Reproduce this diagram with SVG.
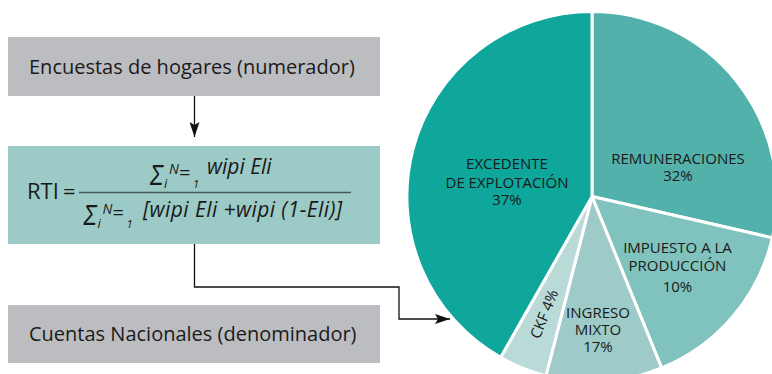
<svg xmlns="http://www.w3.org/2000/svg" xmlns:xlink="http://www.w3.org/1999/xlink" width="772" height="374" viewBox="0 0 772 374">
<style>
.box{fill:#bcbdc1}
.fbox{fill:#9ccac6}
.t{font-family:"Open Sans","Noto Sans",sans-serif;fill:#1a1a1a}
.bt{font-size:20px}
.it{font-style:italic;font-size:21px}
.pl{font-family:"Open Sans","Noto Sans",sans-serif;font-size:15px;fill:#1a1a1a;text-anchor:middle}
.sl{stroke:#fff;stroke-width:3;stroke-linejoin:round}
.conn{fill:none;stroke:#111;stroke-width:1.3}
</style>
<defs>
<marker id="ah" markerWidth="15" markerHeight="10" refX="15" refY="5" orient="auto" markerUnits="userSpaceOnUse">
<path d="M0,0 L15,5 L0,10 L3,5 Z" fill="#111"/>
</marker>
<g id="sum">
<text transform="translate(150,185) scale(1,1.35)" style="font-family:'Liberation Sans',sans-serif;font-style:italic;font-size:22px;fill:#1a1a1a">Σ</text>
<text class="t" x="169" y="174" style="font-style:italic;font-size:14px">N</text>
<text class="t" x="179" y="180" style="font-size:20px">=</text>
<text class="t" x="164" y="188" style="font-style:italic;font-size:13px">i</text>
<text class="t" x="193" y="188" style="font-style:italic;font-size:11px">1</text>
</g>
</defs>

<g id="node-encuestas">
<rect class="box" x="8" y="37" width="372" height="59"/>
<text class="t bt" x="29" y="74">Encuestas de hogares (numerador)</text>
</g>

<g id="node-rti">
<rect class="fbox" x="8" y="146" width="372" height="98"/>
<text class="t" x="27" y="199" style="font-size:22px">RTI</text>
<text class="t" x="63" y="199" style="font-size:22px">=</text>
<line x1="79" y1="192.5" x2="351" y2="192.5" stroke="#4a5a58" stroke-width="1.5"/>
<use xlink:href="#sum"/>
<text class="t it" x="207" y="174">wipi Eli</text>
<use xlink:href="#sum" transform="translate(-66.5,40)"/>
<text class="t it" x="143" y="216.5" textLength="199" lengthAdjust="spacing">[wipi Eli +wipi (1-Eli)]</text>
</g>

<g id="node-cuentas">
<rect class="box" x="8" y="305" width="372" height="58"/>
<text class="t bt" x="29" y="341">Cuentas Nacionales (denominador)</text>
</g>

<g id="pie">
<path class="sl" fill="#52b1ab" d="M592,196.5 L592,11.5 A185,185 0 0 1 772.3,237.8 Z"/>
<path class="sl" fill="#80c2bd" d="M592,196.5 L772.3,237.8 A185,185 0 0 1 661.6,367.9 Z"/>
<path class="sl" fill="#9ecbc7" d="M592,196.5 L661.6,367.9 A185,185 0 0 1 546.0,375.7 Z"/>
<path class="sl" fill="#b9dad7" d="M592,196.5 L546.0,375.7 A185,185 0 0 1 500.6,357.4 Z"/>
<path class="sl" fill="#0fa69c" d="M592,196.5 L500.6,357.4 A185,185 0 0 1 592,11.5 Z"/>
<text class="pl" x="507" y="169">EXCEDENTE</text>
<text class="pl" x="507" y="188">DE EXPLOTACIÓN</text>
<text class="pl" x="507" y="205">37%</text>
<text class="pl" x="678" y="164">REMUNERACIONES</text>
<text class="pl" x="678" y="181">32%</text>
<text class="pl" x="677.5" y="253">IMPUESTO A LA</text>
<text class="pl" x="677.5" y="271">PRODUCCIÓN</text>
<text class="pl" x="677.5" y="292">10%</text>
<text class="pl" x="598" y="318">INGRESO</text>
<text class="pl" x="598" y="335">MIXTO</text>
<text class="pl" x="598" y="352">17%</text>
<text class="pl" transform="translate(549,316) rotate(-68)">CKF 4%</text>
</g>

<g id="connectors">
<path class="conn" d="M194.5,96 L194.5,137" marker-end="url(#ah)"/>
<path class="conn" d="M194.5,244 L194.5,287 L399,287 L399,319 L450,319" marker-end="url(#ah)"/>
</g>
</svg>
